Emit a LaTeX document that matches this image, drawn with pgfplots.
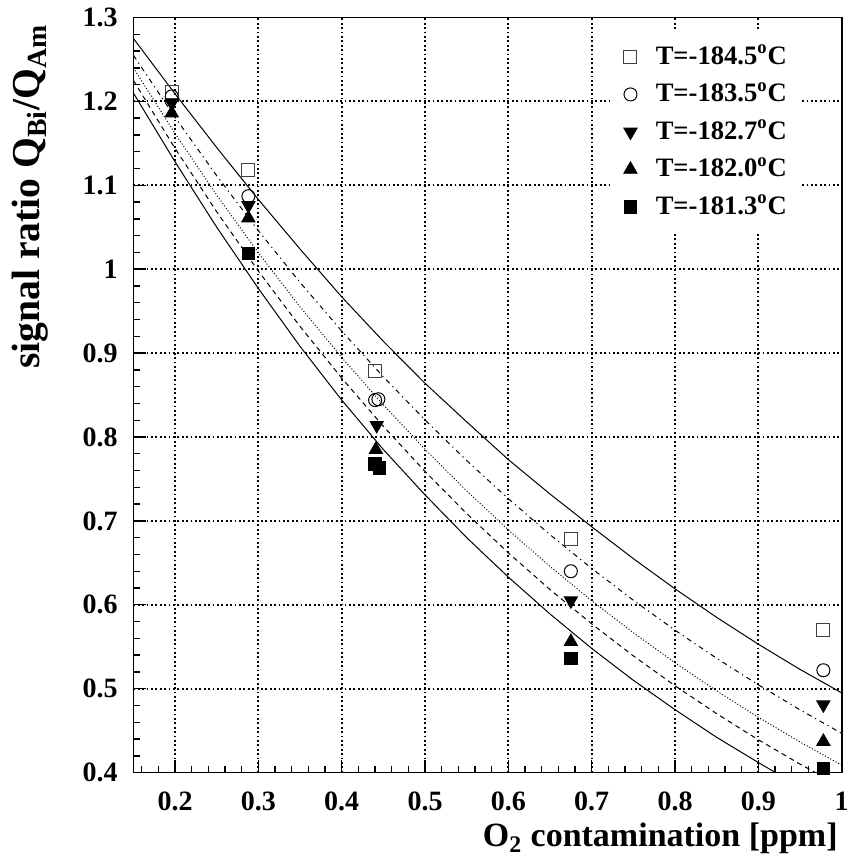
\documentclass[border=0pt]{standalone}
\usepackage{fontspec}
\setmainfont{Liberation Serif}
\usepackage{pgfplots}
\pgfplotsset{compat=1.18}

\begin{document}
\begin{tikzpicture}
\begin{axis}[
  name=ax,
  scale only axis, width=354.15pt, height=377.55pt,
  xmin=0.15, xmax=1, ymin=0.4, ymax=1.3,
  xtick={0.2,0.3,0.4,0.5,0.6,0.7,0.8,0.9,1},
  ytick={0.4,0.5,0.6,0.7,0.8,0.9,1,1.1,1.2,1.3},
  minor xtick={0.16,0.18,...,0.98},
  minor ytick={0.42,0.44,...,1.28},
  tick pos=left, tick align=inside,
  major tick length=6.5pt, minor tick length=3.2pt,
  every tick/.style={black, line width=0.7pt},
  axis line style={line width=0.85pt},
  grid=major,
  major grid style={black, line width=0.9pt, dash pattern=on 0.9pt off 1.3pt},
  /pgf/number format/assume math mode=true,
  ticklabel style={font=\fontsize{14}{16}\selectfont\bfseries},
  xticklabel style={yshift=-6pt},
  yticklabel style={xshift=-4.3pt},
  xlabel={O\textsubscript{2} contamination [ppm]},
  ylabel={signal ratio Q\textsubscript{Bi}/Q\textsubscript{Am}},
  xlabel style={font=\fontsize{17}{20}\selectfont\bfseries, at={(axis description cs:1,-0.0985)}, anchor=base east, xshift=1.5pt},
  ylabel style={font=\fontsize{19.8}{23}\selectfont\bfseries, at={(axis description cs:-0.1319,1)}, anchor=base east},
  legend cell align=left,
  legend style={at={(axis description cs:0.6729,0.9834)}, anchor=north west,
    draw=none, fill=white, inner xsep=6.7pt, inner ysep=7pt,
    font=\fontsize{13.3}{16}\selectfont\bfseries, row sep=6.25pt, column sep=9.3pt,
    nodes={inner sep=0pt, text height=10pt, text depth=2.5pt}},
]

% fitted curves
\addplot[forget plot, black, line width=0.5pt] coordinates {
(0.15,1.275) (0.20,1.209) (0.25,1.145) (0.30,1.083) (0.35,1.024) (0.40,0.967)
(0.45,0.914) (0.50,0.864) (0.55,0.818) (0.60,0.773) (0.65,0.732) (0.70,0.693)
(0.75,0.655) (0.80,0.619) (0.85,0.585) (0.90,0.553) (0.95,0.523) (1.00,0.495)};
\addplot[forget plot, black, line width=0.5pt, dash pattern=on 2.5pt off 2pt on 0.6pt off 2pt] coordinates {
(0.15,1.2550) (0.20,1.1810) (0.25,1.1114) (0.30,1.0459) (0.35,0.9843) (0.40,0.9263)
(0.45,0.8717) (0.50,0.8203) (0.55,0.7719) (0.60,0.7264) (0.65,0.6836) (0.70,0.6433)
(0.75,0.6054) (0.80,0.5697) (0.85,0.5362) (0.90,0.5046) (0.95,0.4748) (1.00,0.4468)};
\addplot[forget plot, black, line width=0.5pt, dash pattern=on 0.5pt off 1pt] coordinates {
(0.15,1.2400) (0.20,1.1617) (0.25,1.0883) (0.30,1.0195) (0.35,0.9551) (0.40,0.8948)
(0.45,0.8383) (0.50,0.7853) (0.55,0.7357) (0.60,0.6892) (0.65,0.6457) (0.70,0.6049)
(0.75,0.5667) (0.80,0.5309) (0.85,0.4974) (0.90,0.4659) (0.95,0.4365) (1.00,0.4089)};
\addplot[forget plot, black, line width=0.5pt, dash pattern=on 2.5pt off 2pt] coordinates {
(0.15,1.2250) (0.20,1.1440) (0.25,1.0684) (0.30,0.9977) (0.35,0.9318) (0.40,0.8702)
(0.45,0.8127) (0.50,0.7589) (0.55,0.7087) (0.60,0.6619) (0.65,0.6181) (0.70,0.5773)
(0.75,0.5391) (0.80,0.5035) (0.85,0.4702) (0.90,0.4391) (0.95,0.4101) (1.00,0.3830)};
\addplot[forget plot, black, line width=0.5pt] coordinates {
(0.15,1.210) (0.20,1.128) (0.25,1.050) (0.30,0.977) (0.35,0.908) (0.40,0.844)
(0.45,0.785) (0.50,0.731) (0.55,0.680) (0.60,0.633) (0.65,0.589) (0.70,0.548)
(0.75,0.510) (0.80,0.475) (0.85,0.442) (0.90,0.412) (0.95,0.383) (1.00,0.357)};

% measurements
\addplot[only marks, mark=square, mark size=3.25pt, mark options={draw=black!75, line width=0.5pt}] coordinates {
(0.196,1.211) (0.288,1.118) (0.440,0.879) (0.675,0.678) (0.978,0.570)};
\addplot[only marks, mark=o, mark size=3.25pt, mark options={draw=black, line width=0.5pt}] coordinates {
(0.196,1.206) (0.288,1.087) (0.440,0.844) (0.444,0.845) (0.675,0.640) (0.978,0.522)};
\addplot[only marks, mark=triangle*, mark size=3.85pt, mark options={black, rotate=180}] coordinates {
(0.196,1.198) (0.288,1.076) (0.442,0.814) (0.675,0.605) (0.978,0.481)};
\addplot[only marks, mark=triangle*, mark size=3.85pt, mark options={black}] coordinates {
(0.196,1.186) (0.288,1.061) (0.441,0.785) (0.675,0.556) (0.978,0.437)};
\addplot[only marks, mark=square*, mark size=3.15pt, mark options={black}] coordinates {
(0.288,1.019) (0.440,0.768) (0.445,0.763) (0.675,0.536) (0.978,0.405)};

\addlegendentry{T=-184.5\textsuperscript{o}C}
\addlegendentry{T=-183.5\textsuperscript{o}C}
\addlegendentry{T=-182.7\textsuperscript{o}C}
\addlegendentry{T=-182.0\textsuperscript{o}C}
\addlegendentry{T=-181.3\textsuperscript{o}C}
\end{axis}
\pgfresetboundingbox
\useasboundingbox ([shift={(-66.7pt,-44.2pt)}]ax.south west) rectangle ([shift={(3.65pt,8.75pt)}]ax.north east);
\end{tikzpicture}
\end{document}
